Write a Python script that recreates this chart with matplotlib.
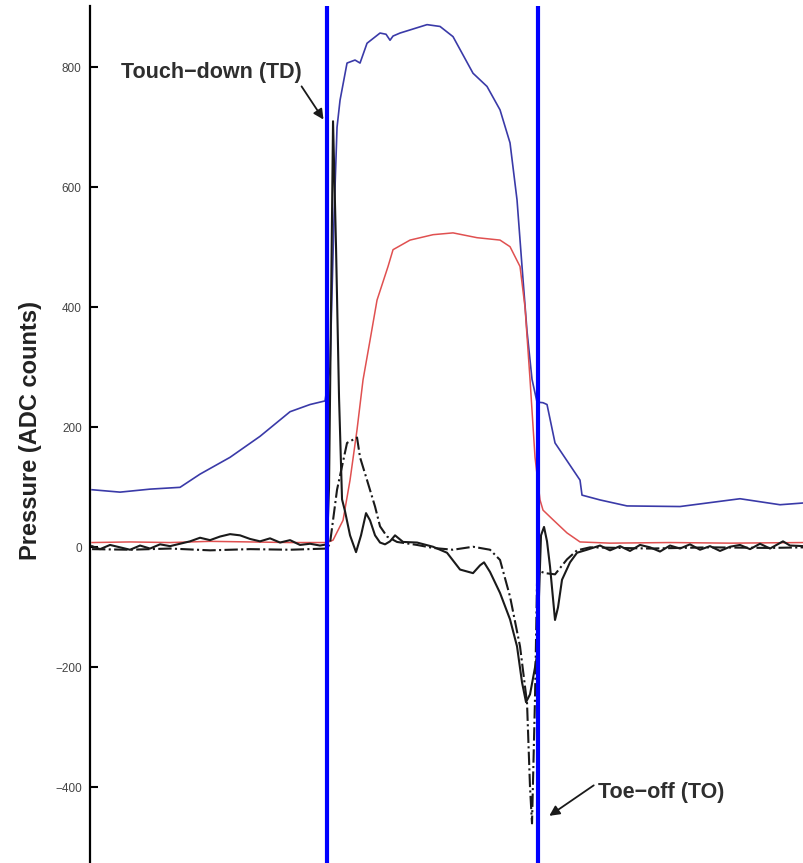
"""Foot-pressure traces around one stance phase, with touch-down / toe-off markers."""
import matplotlib.pyplot as plt

# ---------------------------------------------------------------------------
# data (time in samples, pressure in ADC counts)
# ---------------------------------------------------------------------------
TD = 237
TO = 448

heel_t = [2, 30, 60, 90, 110, 140, 170, 200, 220, 235, 240, 244, 247, 250, 257,
          265, 270, 277, 290, 296, 300, 303, 310, 337, 350, 363, 383, 397, 410,
          420, 427, 432, 437, 442, 447, 453, 457, 465, 490, 492, 510, 537, 590,
          650, 690, 714]
heel_p = [96, 92, 97, 100, 122, 150, 185, 226, 238, 244, 300, 550, 700, 745, 807,
          812, 807, 840, 857, 855, 845, 852, 857, 871, 868, 851, 790, 768, 729,
          674, 579, 468, 360, 280, 242, 241, 238, 174, 112, 87, 79, 69, 68,
          81, 71, 74]

mid_t = [2, 40, 80, 120, 160, 200, 237, 243, 253, 260, 267, 273, 280, 287, 298,
         303, 320, 343, 363, 387, 410, 420, 430, 435, 440, 445, 450, 453, 463,
         477, 490, 520, 580, 640, 714]
mid_p = [8, 9, 8, 10, 9, 8, 8, 12, 45, 112, 196, 279, 345, 412, 468,
         496, 512, 521, 524, 516, 512, 501, 468, 400, 280, 150, 79, 62, 46,
         24, 9, 7, 8, 7, 8]

toe_t = [2, 10, 20, 30, 40, 50, 60, 70, 80, 90, 100, 110, 120, 130, 140, 150,
         160, 170, 180, 190, 200, 210, 220, 230, 237, 239, 241, 243, 246, 249,
         252, 255, 260, 266, 271, 276, 280, 285, 290, 295, 300, 305, 313, 327,
         343, 357, 370, 383, 390, 394, 400, 410, 420, 427, 432, 436, 440, 445,
         447, 451, 454, 457, 460, 465, 468, 472, 480, 487, 497, 510, 520, 530,
         540, 550, 560, 570, 580, 590, 600, 610, 620, 630, 640, 650, 660, 670,
         680, 693, 700, 714]
toe_p = [2, -3, 4, 0, -4, 3, -2, 5, 2, 6, 10, 16, 12, 18, 22, 20,
         14, 10, 15, 8, 12, 4, 6, 3, 5, 100, 400, 710, 500, 250,
         80, 60, 20, -8, 20, 57, 45, 20, 8, 5, 10, 20, 9, 8,
         1, -9, -37, -43, -30, -25, -41, -76, -120, -165, -225, -258, -245, -200,
         -180, 20, 34, 10, -32, -121, -100, -54, -25, -9, -4, 3, -5, 2,
         -6, 4, 0, -7, 3, -2, 5, -4, 2, -6, 1, 4, -3, 6,
         -2, 10, 3, 2]

shear_t = [2, 40, 80, 120, 160, 200, 237, 240, 247, 257, 267, 270, 277, 285, 290,
           297, 307, 327, 343, 363, 383, 400, 410, 420, 430, 437, 440, 442, 445,
           447, 450, 455, 465, 477, 487, 500, 560, 620, 680, 714]
shear_p = [-3, -4, -2, -5, -3, -4, -2, 7, 96, 174, 183, 150, 112, 68, 35,
           18, 9, 4, -1, -4, 1, -4, -21, -82, -165, -259, -400, -460, -250,
           -60, -40, -43, -45, -20, -5, 0, -2, 0, -1, 0]

TICKS = [-400, -200, 0, 200, 400, 600, 800]

# ---------------------------------------------------------------------------
fig = plt.figure(figsize=(8.04, 8.63), dpi=100)
ax = fig.add_axes([0.112, 0.0, 0.888, 0.993])

ax.plot(heel_t, heel_p, color="#3a3aa8", lw=1.2)
ax.plot(mid_t, mid_p, color="#e05050", lw=1.1)
ax.plot(toe_t, toe_p, color="#1a1a1a", lw=1.5)
ax.plot(shear_t, shear_p, color="#1a1a1a", lw=1.5, ls="-.")

for x in (TD, TO):
    ax.axvline(x, color="#0000ff", lw=3.0)

ax.set_xlim(0, 714)
ax.set_ylim(-526, 902)

for s in ("top", "right", "bottom"):
    ax.spines[s].set_visible(False)
ax.spines["left"].set_linewidth(1.6)
ax.set_xticks([])
ax.set_yticks(TICKS)
ax.tick_params(axis="y", direction="in", length=6, width=1.5,
               labelsize=8.5, labelcolor="#444444", pad=6)
for lab in ax.get_yticklabels():
    lab.set_family("Liberation Sans")

ax.set_ylabel("Pressure (ADC counts)", fontsize=17, fontweight="bold",
              family="Liberation Sans", color="#222222", va="center")
ax.yaxis.set_label_coords(-0.083, 0.505)

txt = dict(fontsize=15.5, fontweight="bold", family="Liberation Sans",
           color="#2e2e2e", va="center", ha="left")
arrow = dict(arrowstyle="-|>", color="#1a1a1a", lw=1.3, mutation_scale=15)
ax.text(31, 792, "Touch\u2212down (TD)", **txt)
ax.annotate("", xy=(235, 709), xytext=(210, 772), arrowprops=arrow)
ax.text(508, -408, "Toe\u2212off (TO)", **txt)
ax.annotate("", xy=(457, -450), xytext=(506, -394), arrowprops=arrow)

fig.savefig("out.png", dpi=100)
